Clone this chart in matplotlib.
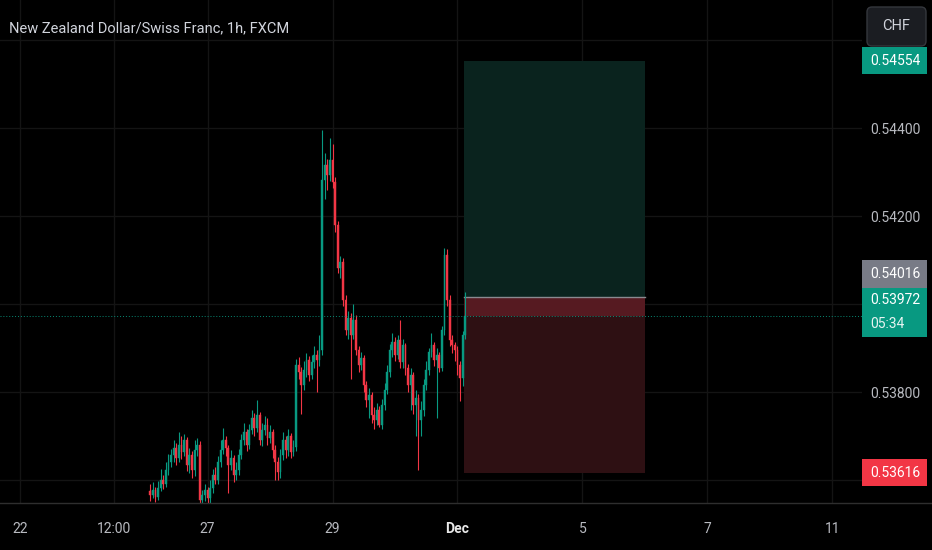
import matplotlib.pyplot as plt
from matplotlib.patches import Rectangle, FancyBboxPatch

# NZD/CHF hourly candles, bar index = trading hours since 22 Nov 00:00 (weekend skipped)
first_bar = 50
opens = [0.53575, 0.53566, 0.53577, 0.53561, 0.53582, 0.53600, 0.53591, 0.53623, 0.53641, 0.53657,
         0.53673, 0.53650, 0.53680, 0.53664, 0.53691, 0.53634, 0.53657, 0.53623, 0.53668, 0.53680,
         0.53554, 0.53566, 0.53577, 0.53559, 0.53582, 0.53611, 0.53600, 0.53641, 0.53668, 0.53691,
         0.53673, 0.53634, 0.53650, 0.53611, 0.53623, 0.53657, 0.53691, 0.53709, 0.53680, 0.53714,
         0.53741, 0.53718, 0.53748, 0.53691, 0.53714, 0.53725, 0.53696, 0.53709, 0.53668, 0.53641,
         0.53618, 0.53657, 0.53691, 0.53668, 0.53700, 0.53664, 0.53675, 0.53862, 0.53846, 0.53816,
         0.53850, 0.53873, 0.53839, 0.53868, 0.53884, 0.53873, 0.53896, 0.54283, 0.54317, 0.54294,
         0.54328, 0.54278, 0.54180, 0.54082, 0.54096, 0.54010, 0.53941, 0.53969, 0.53930, 0.53964,
         0.53896, 0.53862, 0.53878, 0.53816, 0.53782, 0.53793, 0.53748, 0.53737, 0.53759, 0.53725,
         0.53771, 0.53805, 0.53846, 0.53896, 0.53914, 0.53884, 0.53919, 0.53868, 0.53907, 0.53855,
         0.53816, 0.53839, 0.53771, 0.53787, 0.53737, 0.53759, 0.53816, 0.53850, 0.53891, 0.53907,
         0.53873, 0.53884, 0.53855, 0.53941, 0.54112, 0.54010, 0.53919, 0.53907, 0.53896, 0.53862,
         0.53832, 0.53930]
closes = [0.53566, 0.53577, 0.53561, 0.53582, 0.53600, 0.53591, 0.53623, 0.53641, 0.53657, 0.53673,
          0.53650, 0.53680, 0.53664, 0.53691, 0.53634, 0.53657, 0.53623, 0.53668, 0.53680, 0.53554,
          0.53566, 0.53577, 0.53559, 0.53582, 0.53611, 0.53600, 0.53641, 0.53668, 0.53691, 0.53673,
          0.53634, 0.53650, 0.53611, 0.53623, 0.53657, 0.53691, 0.53709, 0.53680, 0.53714, 0.53741,
          0.53718, 0.53748, 0.53691, 0.53714, 0.53725, 0.53696, 0.53709, 0.53668, 0.53641, 0.53618,
          0.53657, 0.53691, 0.53668, 0.53700, 0.53664, 0.53675, 0.53862, 0.53846, 0.53816, 0.53850,
          0.53873, 0.53839, 0.53868, 0.53884, 0.53873, 0.53896, 0.54283, 0.54317, 0.54294, 0.54328,
          0.54278, 0.54180, 0.54082, 0.54096, 0.54010, 0.53941, 0.53969, 0.53930, 0.53964, 0.53896,
          0.53862, 0.53878, 0.53816, 0.53782, 0.53793, 0.53748, 0.53737, 0.53759, 0.53725, 0.53771,
          0.53805, 0.53846, 0.53896, 0.53914, 0.53884, 0.53919, 0.53868, 0.53907, 0.53855, 0.53816,
          0.53839, 0.53771, 0.53787, 0.53737, 0.53759, 0.53816, 0.53850, 0.53891, 0.53907, 0.53873,
          0.53884, 0.53855, 0.53941, 0.54112, 0.54010, 0.53919, 0.53907, 0.53896, 0.53862, 0.53832,
          0.53930, 0.53972]
highs = [0.53590, 0.53595, 0.53584, 0.53598, 0.53625, 0.53612, 0.53640, 0.53660, 0.53670, 0.53690,
         0.53685, 0.53710, 0.53700, 0.53705, 0.53698, 0.53672, 0.53665, 0.53690, 0.53695, 0.53688,
         0.53578, 0.53592, 0.53585, 0.53600, 0.53625, 0.53630, 0.53655, 0.53690, 0.53718, 0.53700,
         0.53680, 0.53668, 0.53658, 0.53640, 0.53670, 0.53705, 0.53730, 0.53715, 0.53728, 0.53760,
         0.53752, 0.53782, 0.53755, 0.53730, 0.53745, 0.53740, 0.53725, 0.53715, 0.53680, 0.53652,
         0.53670, 0.53710, 0.53700, 0.53715, 0.53708, 0.53690, 0.53875, 0.53880, 0.53858, 0.53870,
         0.53890, 0.53882, 0.53885, 0.53905, 0.53895, 0.53930, 0.54396, 0.54345, 0.54330, 0.54378,
         0.54365, 0.54290, 0.54190, 0.54110, 0.54105, 0.54020, 0.53985, 0.53980, 0.54000, 0.53975,
         0.53905, 0.53892, 0.53885, 0.53825, 0.53810, 0.53800, 0.53765, 0.53775, 0.53768, 0.53785,
         0.53820, 0.53862, 0.53910, 0.53935, 0.53925, 0.53930, 0.53964, 0.53920, 0.53912, 0.53865,
         0.53855, 0.53845, 0.53805, 0.53795, 0.53780, 0.53830, 0.53870, 0.53900, 0.53935, 0.53915,
         0.53900, 0.53892, 0.53950, 0.54128, 0.54125, 0.54020, 0.53930, 0.53915, 0.53905, 0.53870,
         0.53940, 0.54028]
lows = [0.53552, 0.53558, 0.53550, 0.53555, 0.53575, 0.53580, 0.53585, 0.53612, 0.53630, 0.53640,
        0.53635, 0.53642, 0.53648, 0.53655, 0.53620, 0.53615, 0.53605, 0.53610, 0.53655, 0.53540,
        0.53540, 0.53552, 0.53545, 0.53548, 0.53570, 0.53590, 0.53592, 0.53630, 0.53660, 0.53655,
        0.53570, 0.53622, 0.53595, 0.53600, 0.53612, 0.53648, 0.53680, 0.53665, 0.53670, 0.53705,
        0.53700, 0.53710, 0.53680, 0.53678, 0.53702, 0.53680, 0.53685, 0.53650, 0.53600, 0.53600,
        0.53605, 0.53645, 0.53650, 0.53655, 0.53650, 0.53655, 0.53665, 0.53830, 0.53750, 0.53805,
        0.53835, 0.53825, 0.53830, 0.53855, 0.53800, 0.53860, 0.53885, 0.54240, 0.54260, 0.54280,
        0.54265, 0.54165, 0.54070, 0.54060, 0.53995, 0.53930, 0.53920, 0.53830, 0.53920, 0.53885,
        0.53845, 0.53850, 0.53800, 0.53765, 0.53740, 0.53730, 0.53715, 0.53725, 0.53720, 0.53715,
        0.53760, 0.53795, 0.53835, 0.53880, 0.53870, 0.53875, 0.53855, 0.53855, 0.53840, 0.53800,
        0.53760, 0.53750, 0.53700, 0.53623, 0.53700, 0.53745, 0.53805, 0.53840, 0.53880, 0.53860,
        0.53740, 0.53845, 0.53848, 0.53930, 0.53995, 0.53905, 0.53890, 0.53870, 0.53840, 0.53780,
        0.53815, 0.53920]

tick_pos = [0, 36, 72, 120, 168, 216, 264, 312]
tick_labels = ['22', '12:00', '27', '29', 'Dec', '5', '7', '11']
price_grid = [0.536, 0.538, 0.540, 0.542, 0.544, 0.546]
price_labels = [0.538, 0.542, 0.544]

entry = 0.54016
take_profit = 0.54554
stop_loss = 0.53616
last_price = 0.53972
countdown = '05:34'
pos_start, pos_end = 170.5, 240

UP = '#089981'
DOWN = '#f23645'
BG = '#000000'
GRID = '#141414'
TXT = '#b8bac0'

plt.rcParams['font.family'] = ['Roboto', 'DejaVu Sans']

W, H = 932, 550
fig = plt.figure(figsize=(W / 100, H / 100), dpi=100, facecolor=BG)
ax = fig.add_axes([0, 47 / H, 862 / W, 503 / H])
ax.set_facecolor(BG)
ax.set_xlim(-7.7, 323.35)
ax.set_ylim(0.535477, 0.54692)

# grid
for p in price_grid:
    ax.axhline(p, color=GRID, lw=1, zorder=0)
for t in tick_pos:
    ax.axvline(t, color=GRID, lw=1, zorder=0)

# candles
xs = list(range(first_bar, first_bar + len(closes)))
cols = [UP if c >= o else DOWN for o, c in zip(opens, closes)]
ax.vlines(xs, lows, highs, colors=cols, lw=0.8, zorder=3)
ax.bar(xs, [c - o for o, c in zip(opens, closes)], bottom=opens, width=0.7,
       color=cols, edgecolor=cols, lw=0.3, zorder=3)

# long position tool
ax.add_patch(Rectangle((pos_start, entry), pos_end - pos_start, take_profit - entry,
                       fc='#0a231e', ec='none', zorder=2))
ax.add_patch(Rectangle((pos_start, stop_loss), pos_end - pos_start, entry - stop_loss,
                       fc='#2e1013', ec='none', zorder=2))
ax.add_patch(Rectangle((pos_start, last_price), pos_end - pos_start, entry - last_price,
                       fc='#561a21', ec='none', zorder=2))
ax.plot([pos_start, pos_end], [entry, entry], color='#8a8a90', lw=1, zorder=2.5)

# last price line
ax.axhline(last_price, color=UP, lw=0.7, ls=(0, (1, 2)), alpha=0.9, zorder=4)

ax.set_xticks(tick_pos)
ax.set_xticklabels(tick_labels)
ax.set_yticks(price_labels)
ax.set_yticklabels(['%.5f' % p for p in price_labels])
ax.yaxis.tick_right()
ax.tick_params(axis='y', length=0, pad=6, colors=TXT, labelsize=10)
ax.tick_params(axis='x', length=0, pad=14, colors=TXT, labelsize=10)
for lab in ax.get_xticklabels():
    if lab.get_text() == 'Dec':
        lab.set_color('#e8e8e8')
        lab.set_fontweight('bold')
for s in ax.spines.values():
    s.set_visible(False)

# overlay in pixel space for the scale badges
ov = fig.add_axes([0, 0, 1, 1], facecolor='none')
ov.set_xlim(0, W)
ov.set_ylim(0, H)
ov.axis('off')
ov.plot([0, W], [H - 503, H - 503], color='#2e2e2e', lw=1)


def badge(price, texts, color, dy=0, h=27):
    y = ax.transData.transform((0, price))[1] + dy
    ov.add_patch(Rectangle((862, y - h / 2), 65, h, fc=color, ec='none', zorder=5))
    if len(texts) == 1:
        ov.text(870, y, texts[0], color='white', fontsize=10, ha='left', va='center', zorder=6)
    else:
        ov.text(870, y + 12, texts[0], color='white', fontsize=10, ha='left', va='center', zorder=6)
        ov.text(870, y - 12, texts[1], color='#e6f4f1', fontsize=10, ha='left', va='center', zorder=6)


badge(take_profit, ['%.5f' % take_profit], UP)
badge(entry, ['%.5f' % entry], '#787b86', dy=23, h=28)
badge(last_price, ['%.5f' % last_price, countdown], UP, dy=4, h=49)
badge(stop_loss, ['%.5f' % stop_loss], DOWN)

ov.add_patch(FancyBboxPatch((867, H - 46), 59, 39, boxstyle='round,pad=0,rounding_size=5',
                            fc='#1b1d22', ec='#34373d', lw=1, zorder=7))
ov.text(896.5, H - 26.5, 'CHF', color='#d1d4dc', fontsize=10.5, ha='center', va='center', zorder=8)

fig.text(9 / W, 1 - 28 / H, 'New Zealand Dollar/Swiss Franc, 1h, FXCM', color='#d1d4dc',
         fontsize=10.5, ha='left', va='center')

fig.savefig('out.png', dpi=100, facecolor=BG)
